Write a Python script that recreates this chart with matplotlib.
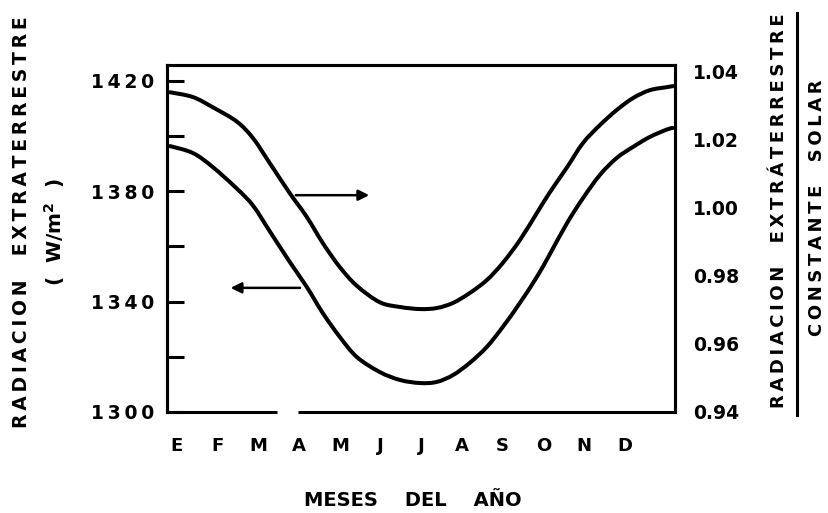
import matplotlib
matplotlib.use('Agg')
import matplotlib.pyplot as plt
from matplotlib.lines import Line2D
from matplotlib.path import Path
from matplotlib.patches import PathPatch

plt.rcParams['font.family'] = ['DejaVu Sans']
plt.rcParams['font.weight'] = 'bold'

# meses (posición 0 = enero)
meses = ['E', 'F', 'M', 'A', 'M', 'J', 'J', 'A', 'S', 'O', 'N', 'D']

# curva inferior: radiación extraterrestre en W/m2 (eje izquierdo)
x_rad = [-0.17, 0.39, 0.88, 1.47, 1.87, 2.28, 2.77, 3.19, 3.58, 4.00, 4.42, 4.98,
         5.48, 5.97, 6.38, 6.78, 7.19, 7.61, 8.00, 8.42, 8.84, 9.16, 9.58, 9.97,
         10.39, 10.80, 11.20, 11.61, 12.03, 12.18]
radiacion = [1396.4, 1393.9, 1388.8, 1381.0, 1374.8, 1365.5, 1354.4, 1345.3,
             1335.9, 1327.2, 1319.9, 1314.5, 1311.6, 1310.5, 1310.9, 1313.4,
             1317.8, 1323.6, 1330.8, 1339.5, 1349.0, 1357.3, 1368.5, 1377.5,
             1386.0, 1392.1, 1396.1, 1399.7, 1402.4, 1403.0]

# curva superior: radiación extraterrestre / constante solar (eje derecho)
x_rel = x_rad
relacion = [1.0338, 1.0324, 1.0294, 1.0252, 1.0203, 1.0130, 1.0042, 0.9972,
            0.9896, 0.9825, 0.9770, 0.9722, 0.9708, 0.9702, 0.9705, 0.9720,
            0.9749, 0.9787, 0.9837, 0.9904, 0.9984, 1.0045, 1.0118, 1.0189,
            1.0242, 1.0286, 1.0321, 1.0344, 1.0353, 1.0356]

ticks_izq = [1300, 1340, 1380, 1420]
ticks_izq_menores = [1320, 1360, 1400]
ticks_der = [0.94, 0.96, 0.98, 1.00, 1.02, 1.04]
etiquetas_der = ['0.94', '0.96', '0.98', '1.00', '1.02', '1.04']
ticks_der_menores = [0.96, 0.98, 1.00]


def espaciado(texto):
    # letras separadas con espacio fino, como en la rotulación original
    return '\u2009'.join(texto)


def curva_suave(eje, xs, ys, **kw):
    """Traza la curva pasando por los puntos con tramos Bezier (Catmull-Rom)"""
    pts = list(zip(xs, ys))
    n = len(pts)
    verts = [pts[0]]
    codes = [Path.MOVETO]
    for i in range(n - 1):
        p0 = pts[max(i - 1, 0)]
        p1 = pts[i]
        p2 = pts[i + 1]
        p3 = pts[min(i + 2, n - 1)]
        c1 = (p1[0] + (p2[0] - p0[0]) / 6, p1[1] + (p2[1] - p0[1]) / 6)
        c2 = (p2[0] - (p3[0] - p1[0]) / 6, p2[1] - (p3[1] - p1[1]) / 6)
        verts += [c1, c2, p2]
        codes += [Path.CURVE4] * 3
    patch = PathPatch(Path(verts, codes), fill=False, transform=eje.transData, **kw)
    eje.add_patch(patch)
    return patch


fig = plt.figure(figsize=(8.29, 5.13), dpi=100)
ax = fig.add_axes([0.2014, 0.1969, 0.6128, 0.6764])
ax2 = ax.twinx()

ax.set_xlim(-0.245, 12.23)
ax.set_ylim(1300, 1425.8)
ax2.set_ylim(0.94, 1.0418)

curva_suave(ax, x_rad, radiacion, edgecolor='black', lw=2.9, capstyle='round')
curva_suave(ax2, x_rel, relacion, edgecolor='black', lw=2.9, capstyle='round')

# flechas que indican a qué eje pertenece cada curva
flecha = dict(arrowstyle='-|>', lw=1.8, color='black', mutation_scale=16)
ax.annotate('', xy=(1.25, 1345), xytext=(3.09, 1345), arrowprops=flecha)
ax2.annotate('', xy=(4.79, 1.0036), xytext=(2.85, 1.0036), arrowprops=flecha)

# bordes
for a in (ax, ax2):
    for s in a.spines.values():
        s.set_linewidth(2.2)
    a.spines['bottom'].set_visible(False)
# borde inferior con un corte
ax.plot([0, 0.2165], [0, 0], transform=ax.transAxes, color='black', lw=2.2,
        clip_on=False, solid_capstyle='butt')
ax.plot([0.258, 1.0], [0, 0], transform=ax.transAxes, color='black', lw=2.2,
        clip_on=False, solid_capstyle='butt')

# eje x
ax.set_xticks(range(len(meses)))
ax.set_xticklabels(meses)
ax.tick_params(axis='x', length=0, pad=18, labelsize=13)

# eje izquierdo
ax.set_yticks(ticks_izq)
ax.set_yticklabels([espaciado(str(t)) for t in ticks_izq])
ax.set_yticks(ticks_izq_menores, minor=True)
ax.tick_params(axis='y', which='both', direction='in', length=12, width=2.2,
               pad=9, labelsize=13.5, right=False)

# eje derecho
ax2.set_yticks(ticks_der)
ax2.set_yticklabels(etiquetas_der)
ax2.set_yticks(ticks_der_menores, minor=True)
ax2.tick_params(axis='y', which='major', length=0, pad=13, labelsize=13.5,
                left=False)
ax2.tick_params(axis='y', which='minor', direction='in', length=16, width=2.2,
                left=False)

# rótulos
fig.text(413 / 829, 1 - 500 / 513, 'MESES    DEL    AÑO', ha='center', va='center',
         fontsize=14)
fig.text(22 / 829, 1 - 222 / 513, espaciado('RADIACION  EXTRATERRESTRE'),
         rotation=90, ha='center', va='center', fontsize=13.5)
fig.text(55 / 829, 1 - 232 / 513, r'(  W/m$^{\mathbf{2}}$  )', rotation=90,
         ha='center', va='center', fontsize=14.5)

fig.text(779 / 829, 1 - 211 / 513, espaciado('RADIACION  EXTRÁTERRESTRE'),
         rotation=90, ha='center', va='center', fontsize=13)
fig.add_artist(Line2D([797 / 829, 797 / 829], [1 - 415 / 513, 1 - 13 / 513],
                      color='black', lw=2.2, transform=fig.transFigure))
fig.text(817 / 829, 1 - 208 / 513, espaciado('CONSTANTE  SOLAR'),
         rotation=90, ha='center', va='center', fontsize=13)

fig.savefig('out.png', dpi=100)
